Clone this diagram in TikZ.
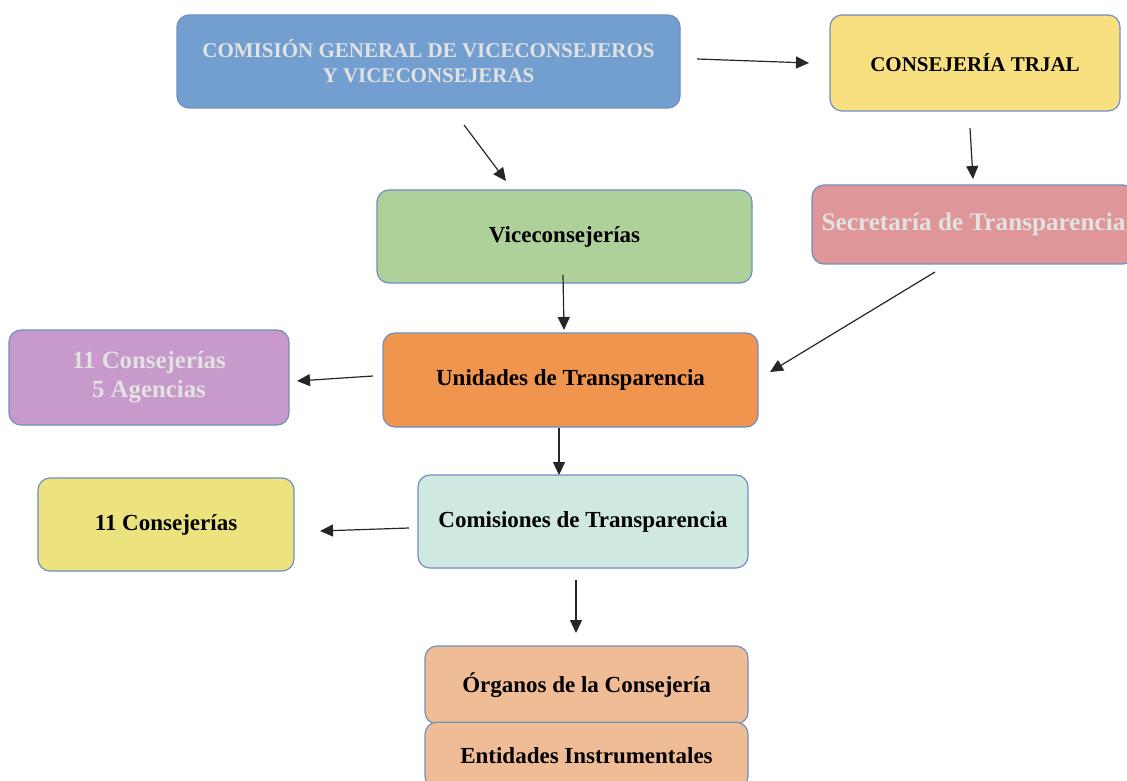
\documentclass[tikz,border=0pt]{standalone}
\usepackage{fontspec}
\setmainfont{Liberation Serif}
\usepackage[dvipsnames]{xcolor}
\usetikzlibrary{positioning, arrows.meta}

\definecolor{cgvblue}{HTML}{729FCF}
\definecolor{trjalyellow}{HTML}{F8DF7F}
\definecolor{vicegreen}{HTML}{AED19A}
\definecolor{secrpink}{HTML}{DF9698}
\definecolor{conspurple}{HTML}{C89ACB}
\definecolor{unidorange}{HTML}{F0954D}
\definecolor{consyellow}{HTML}{ECE37F}
\definecolor{comismint}{HTML}{CFE8E1}
\definecolor{orgpeach}{HTML}{F0BC96}
\definecolor{boxline}{HTML}{6F8FC0}
\definecolor{paletext}{HTML}{E2E2E2}

\tikzset{
	box/.style={draw=boxline, line width=0.6pt, rounded corners=6pt, align=center,
		font=\bfseries\fontsize{11.5}{13.5}\selectfont},
	flow/.style={-{Triangle[length=6.5pt,width=6pt]}, line width=0.6pt, draw=black!85}
}

\begin{document}
\begin{tikzpicture}[x=0.5pt, y=-0.5pt]
	\useasboundingbox (0,0) rectangle (1127,780);
	\node[box, fill=cgvblue, text=paletext, minimum width=251.5pt, minimum height=46.5pt,
		font=\bfseries\fontsize{10.5}{12.5}\selectfont] (cgv) at (428.5,61.5)
		{COMISIÓN GENERAL DE VICECONSEJEROS\\Y VICECONSEJERAS};
	\node[box, fill=trjalyellow, minimum width=145pt, minimum height=48pt,
		font=\bfseries\fontsize{10.5}{12.5}\selectfont] (trjal) at (975,63) {CONSEJERÍA TRJAL};
	\node[box, fill=vicegreen, minimum width=187.5pt, minimum height=46.5pt] (vice) at (564.5,236.5) {Viceconsejerías};
	\node[box, fill=secrpink, text=paletext, minimum width=161.5pt, minimum height=39.5pt,
		font=\bfseries\fontsize{12.6}{14.5}\selectfont] (secr) at (973.5,224.5) {Secretaría de Transparencia};
	\node[box, fill=conspurple, text=paletext, minimum width=140pt, minimum height=47.5pt,
		font=\bfseries\fontsize{12.4}{14.5}\selectfont] (cons5) at (149,377.5) {11 Consejerías\\5 Agencias};
	\node[box, fill=unidorange, minimum width=187.5pt, minimum height=47pt] (unid) at (570.5,380) {Unidades de Transparencia};
	\node[box, fill=consyellow, minimum width=128pt, minimum height=46.5pt] (cons11) at (166,524.5) {11 Consejerías};
	\node[box, fill=comismint, minimum width=165pt, minimum height=46.5pt] (comis) at (583,521.5) {Comisiones de Transparencia};
	\node[box, fill=orgpeach, minimum width=161.5pt, minimum height=39pt] (organos) at (586.5,685) {Órganos de la Consejería};
	\node[box, fill=orgpeach, minimum width=161.5pt, minimum height=33pt, below=-1.5pt of organos] (entid) {Entidades Instrumentales};

	% arrow ends
	\coordinate (cgv-e) at (697,59);   \coordinate (trjal-w) at (809,63);
	\coordinate (cgv-s) at (464,125);  \coordinate (vice-n) at (506,181);
	\coordinate (trjal-s) at (970,128); \coordinate (secr-n) at (973,179);
	\coordinate (vice-s) at (563,275); \coordinate (unid-n) at (564,330);
	\coordinate (secr-s) at (935,272); \coordinate (unid-e) at (770,372);
	\coordinate (unid-w) at (373,376); \coordinate (cons5-e) at (297,381);
	\coordinate (unid-s) at (559,428); \coordinate (comis-n) at (559,475);
	\coordinate (comis-w) at (409,528); \coordinate (cons11-e) at (320,531);
	\coordinate (comis-s) at (576,580); \coordinate (organos-n) at (576,633);

	\draw[flow] (cgv-e) -- (trjal-w);
	\draw[flow] (cgv-s) -- (vice-n);
	\draw[flow] (trjal-s) -- (secr-n);
	\draw[flow] (vice-s) -- (unid-n);
	\draw[flow] (secr-s) -- (unid-e);
	\draw[flow] (unid-w) -- (cons5-e);
	\draw[flow] (unid-s) -- (comis-n);
	\draw[flow] (comis-w) -- (cons11-e);
	\draw[flow] (comis-s) -- (organos-n);
\end{tikzpicture}
\end{document}
